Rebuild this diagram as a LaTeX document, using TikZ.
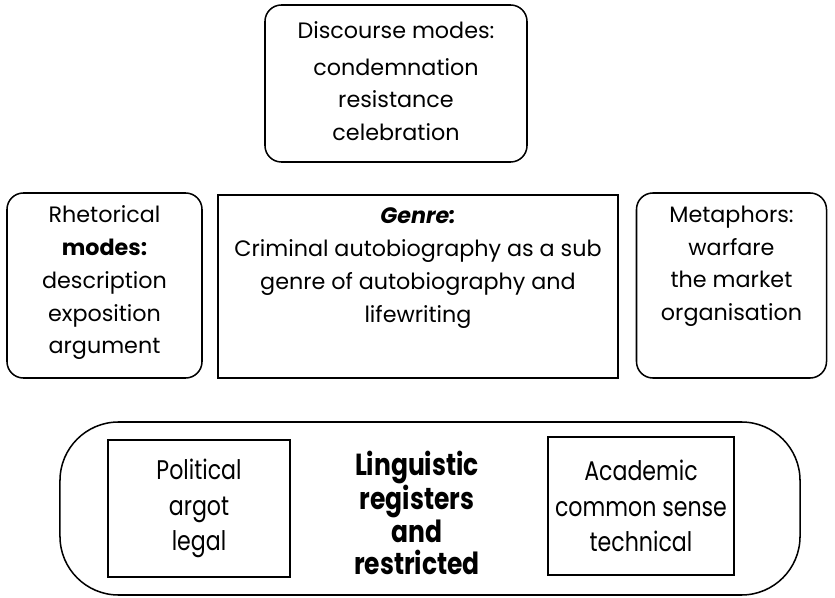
\documentclass[tikz,border=0pt]{standalone}
\usepackage{fontspec}
\setmainfont{Poppins}
\newfontfamily\narrowfont[FakeStretch=0.82]{Poppins}
\usetikzlibrary{positioning}
\tikzset{
  rbox/.style = {draw=black, rectangle, rounded corners=14pt,
                 line width=1.3pt, align=center, inner sep=0pt,
                 font=\fontsize{19}{28}\selectfont},
  sbox/.style = {draw=black, rectangle, line width=1.3pt,
                 align=center, inner sep=0pt,
                 font=\fontsize{19}{28}\selectfont},
  txt/.style  = {align=center, inner sep=0pt,
                 font=\fontsize{19}{28}\selectfont},
  ntxt/.style = {align=center, inner sep=0pt,
                 font=\narrowfont\fontsize{23}{30}\selectfont},
}

\begin{document}
\begin{tikzpicture}[x=0.03cm, y=-0.03cm]

% ────────────────────────────────────────────────────────────
%  Coordinates are in reference pixels (835 x 598),
%  y grows downwards.
% ────────────────────────────────────────────────────────────
\useasboundingbox (0,0) rectangle (835,598);

% ═══════════════════════════════════════════════════════════
%  TOP ROW
% ═══════════════════════════════════════════════════════════
\node[rbox, minimum width=7.86cm, minimum height=4.71cm] (disc) at (396, 83.5) {};
\node[txt, anchor=north] (disc-t) at ([yshift=-0.52cm]disc.north)
  {Discourse modes:\\[3pt]
   condemnation\\
   resistance\\
   celebration};

% ═══════════════════════════════════════════════════════════
%  MIDDLE ROW
% ═══════════════════════════════════════════════════════════
\node[rbox, minimum width=5.85cm, minimum height=5.55cm] (rhet) at (104.5, 285.5) {};
\node[txt, anchor=north] (rhet-t) at ([yshift=-0.4cm]rhet.north)
  {Rhetorical\\
   \textbf{modes:}\\
   description\\
   exposition\\
   argument};

\node[sbox, minimum width=12.0cm, minimum height=5.49cm] (genre) at (418, 286.5) {};
\node[txt, anchor=north] (genre-t) at ([yshift=-0.4cm]genre.north)
  {\textbf{\textit{Genre:}}\\
   Criminal autobiography as a sub\\
   genre of autobiography and\\
   lifewriting};

\node[rbox, minimum width=5.7cm, minimum height=5.55cm] (meta) at (731.5, 285.5) {};
\node[txt, anchor=north] (meta-t) at ([yshift=-0.4cm]meta.north)
  {Metaphors:\\
   warfare\\
   the market\\
   organisation};

% ═══════════════════════════════════════════════════════════
%  BOTTOM ROW
% ═══════════════════════════════════════════════════════════
\node[rbox, rounded corners=50pt, minimum width=22.2cm, minimum height=5.19cm] (ling) at (430, 508.5) {};

\node[sbox, ntxt, minimum width=5.46cm, minimum height=4.11cm] (pol) at (199, 508.5)
  {Political\\ argot\\ legal};

\node[ntxt, font=\narrowfont\bfseries\fontsize{26}{27.5}\selectfont] (ling-t) at (417, 513)
  {Linguistic\\ registers\\ and\\ restricted};

\node[sbox, ntxt, minimum width=5.58cm, minimum height=4.14cm] (acad) at (641, 506)
  {Academic\\ common sense\\ technical};

\end{tikzpicture}
\end{document}
